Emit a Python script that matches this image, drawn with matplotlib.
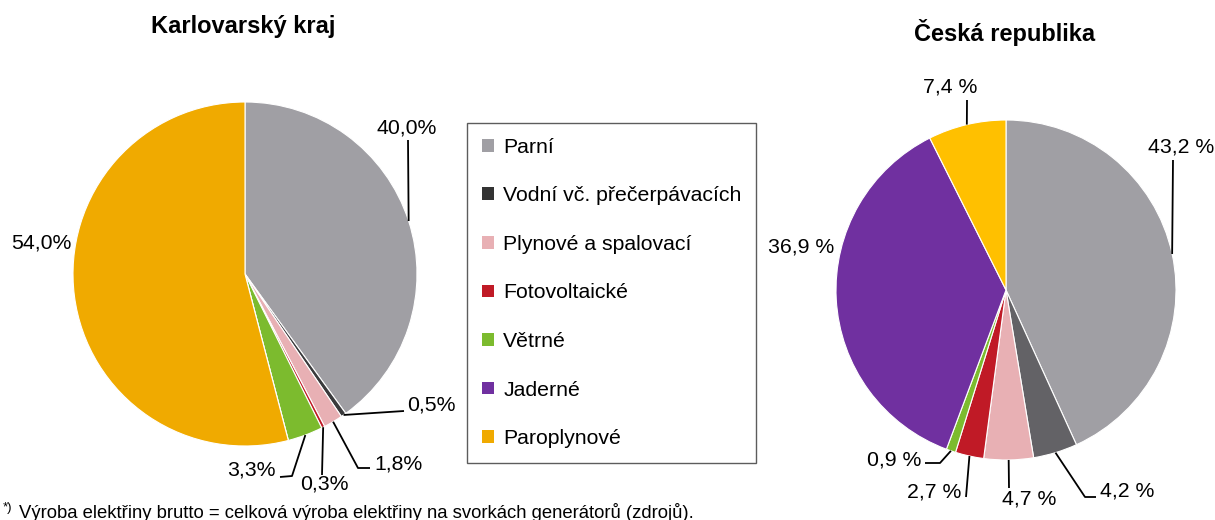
import numpy as np
import matplotlib
matplotlib.use("Agg")
import matplotlib.pyplot as plt
from matplotlib.patches import Patch

plt.rcParams['font.family'] = ['Liberation Sans', 'DejaVu Sans']

categories = ["Parní", "Vodní vč. přečerpávacích", "Plynové a spalovací",
              "Fotovoltaické", "Větrné", "Jaderné", "Paroplynové"]
kv_values = [40.0, 0.5, 1.8, 0.3, 3.3, 0.0, 54.0]
cr_values = [43.2, 4.2, 4.7, 2.7, 0.9, 36.9, 7.4]

legend_colors = ["#A09FA4", "#333333", "#E8B0B4", "#C01A26", "#7CBB2E", "#7030A0", "#F0AA00"]
kv_colors = ["#A09FA4", "#3A3A3C", "#E8B0B4", "#C01A26", "#7CBB2E", "#7030A0", "#F0AA00"]
cr_colors = ["#A09FA4", "#636266", "#E8B0B4", "#C01A26", "#7CBB2E", "#7030A0", "#FFC000"]

W, H = 1215, 520
fig = plt.figure(figsize=(W / 100, H / 100), dpi=100)
ax = fig.add_axes([0, 0, 1, 1])

def Y(y):
    return H - y

FS = 15.3

def draw_pie(values, colors, center, radius, fmt, labels_spec):
    wedges, _ = ax.pie(values, colors=colors, startangle=90, counterclock=False,
                       center=(center[0], Y(center[1])), radius=radius,
                       wedgeprops=dict(edgecolor="white", linewidth=0.8))
    for i, spec in labels_spec.items():
        w = wedges[i]
        ang = np.deg2rad((w.theta1 + w.theta2) / 2)
        ex = center[0] + radius * np.cos(ang)
        ey = center[1] - radius * np.sin(ang)
        txt = fmt(values[i])
        pts = spec.get("line")
        if pts:
            xs = [ex] + [p[0] for p in pts]
            ys = [Y(ey)] + [Y(p[1]) for p in pts]
            ax.plot(xs, ys, color="black", lw=1.3, solid_capstyle="butt")
        tx, ty, ha = spec["text"]
        ax.text(tx, Y(ty), txt, ha=ha, va="center", fontsize=FS, color="black")

kv_fmt = lambda v: f"{v:.1f}%".replace(".", ",")
cr_fmt = lambda v: f"{v:.1f} %".replace(".", ",")

kv_labels = {
    0: dict(line=[(408, 140)], text=(407, 128, "center")),
    1: dict(line=[(404, 411)], text=(407, 405, "left")),
    2: dict(line=[(358, 468), (370, 468)], text=(374, 464, "left")),
    3: dict(line=[(322, 475)], text=(324, 484, "center")),
    4: dict(line=[(292, 476), (280, 477)], text=(276, 470, "right")),
    6: dict(text=(41, 243, "center")),
}
cr_labels = {
    0: dict(line=[(1173, 160)], text=(1181, 147, "center")),
    1: dict(line=[(1085, 497), (1096, 497)], text=(1100, 491, "left")),
    2: dict(line=[(1009, 488)], text=(1029, 499, "center")),
    3: dict(line=[(966, 497)], text=(961, 492, "right")),
    4: dict(line=[(940, 463), (925, 463)], text=(921, 460, "right")),
    5: dict(text=(801, 247, "center")),
    6: dict(line=[(967, 100)], text=(950, 87, "center")),
}

draw_pie(kv_values, kv_colors, (245, 274), 172, kv_fmt, kv_labels)
draw_pie(cr_values, cr_colors, (1006, 290), 170, cr_fmt, cr_labels)

ax.set_xlim(0, W)
ax.set_ylim(0, H)
ax.set_aspect("equal")
ax.axis("off")

ax.text(243, Y(27), "Karlovarský kraj", ha="center", va="center", fontsize=17, fontweight="bold")
ax.text(1005, Y(33), "Česká republika", ha="center", va="center", fontsize=17, fontweight="bold")

handles = [Patch(facecolor=c, edgecolor="none") for c in legend_colors]
leg = ax.legend(handles, categories, loc="upper left",
                bbox_to_anchor=(467 / W, 1 - 123 / H), bbox_transform=fig.transFigure,
                fontsize=FS, frameon=True, fancybox=False, edgecolor="#333333",
                handlelength=0.55, handleheight=0.55, handletextpad=0.45,
                labelspacing=1.39, borderpad=0.7, borderaxespad=0)
leg.get_frame().set_linewidth(1.0)

fig.text(3 / W, 1 - 508 / H, "*)", ha="left", va="center", fontsize=9.5)
fig.text(19 / W, 1 - 512 / H,
         "Výroba elektřiny brutto = celková výroba elektřiny na svorkách generátorů (zdrojů).",
         ha="left", va="center", fontsize=13.3)

fig.savefig("out.png", dpi=100)
